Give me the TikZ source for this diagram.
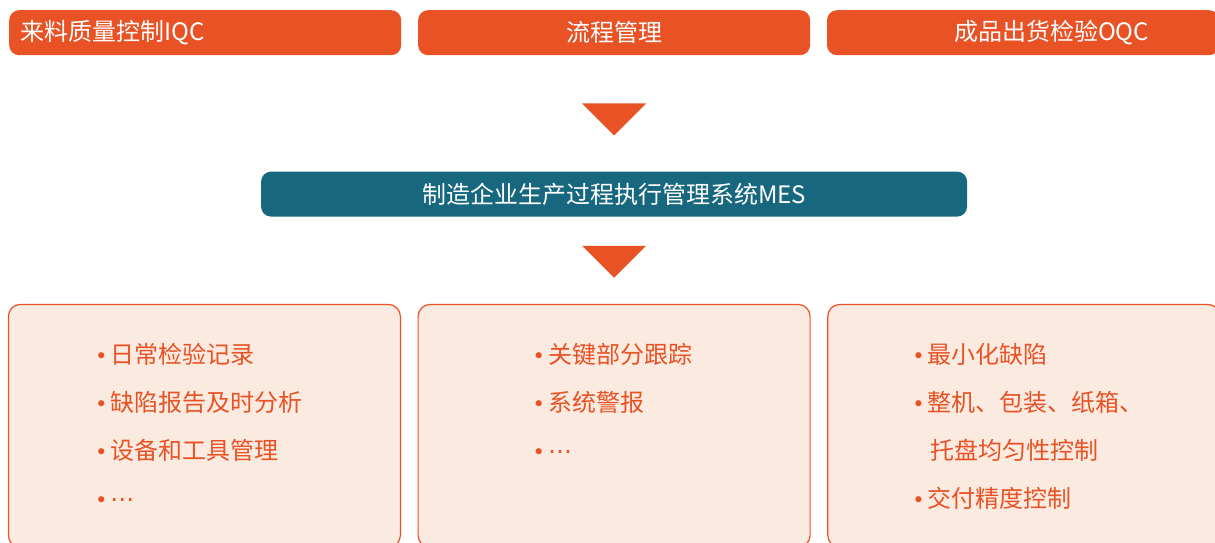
\documentclass[tikz,border=0pt]{standalone}
\usepackage{fontspec}
\setmainfont{Noto Sans CJK SC}
\newfontfamily\dotfont{DejaVu Sans}
\usepackage{xcolor}
\usetikzlibrary{positioning,calc}

\definecolor{mesorange}{HTML}{E85225}
\definecolor{mesteal}{HTML}{17677F}
\definecolor{mespeach}{HTML}{FBEADF}
\newcommand{\bul}{{\dotfont\fontsize{21pt}{21pt}\selectfont •}\hspace{3pt}}
\newcommand{\more}{{\dotfont\fontsize{24pt}{24pt}\selectfont ⋯}}

\begin{document}
\begin{tikzpicture}[
    x=1pt, y=1pt,
    node distance=16.5pt,
    topbox/.style={rectangle, fill=mesorange, text=white, minimum height=45pt, inner ysep=0pt, rounded corners=10pt, font=\fontsize{24pt}{26pt}\selectfont},
    mesbox/.style={rectangle, fill=mesteal, text=white, minimum width=706pt, minimum height=45pt, inner sep=0pt, rounded corners=10pt, font=\fontsize{24pt}{26pt}\selectfont},
    listbox/.style={rectangle, draw=mesorange, line width=1.2pt, fill=mespeach, minimum width=392pt, minimum height=243pt, inner sep=0pt, rounded corners=12pt},
    items/.style={text=mesorange, align=left, anchor=north west, inner sep=0pt, font=\fontsize{24pt}{48pt}\selectfont},
    tri/.style={fill=mesorange}
]
    \useasboundingbox (0,0) rectangle (1215,-542);

    % input side
    \node [topbox, text width=370pt, inner xsep=11pt, align=left, anchor=north west] (iqc) at (9,-10) {来料质量控制IQC};
    \node [topbox, text width=370pt, inner xsep=11pt, align=center, right=of iqc] (flow) {流程管理};
    \node [topbox, text width=252pt, inner xsep=70pt, align=right, right=of flow] (oqc) {成品出货检验OQC};

    \node [mesbox, below=116pt of flow] (mes) {制造企业生产过程执行管理系统MES};

    \fill [tri] ($(flow.south)+(-32,-48)$) -- ++(64,0) -- ++(-32,-32) -- cycle;
    \fill [tri] ($(mes.south)+(-32,-29)$) -- ++(64,0) -- ++(-32,-32) -- cycle;

    % output side
    \node [listbox, below=87pt of mes] (trackbox) {};
    \node [listbox, left=of trackbox] (checkbox) {};
    \node [listbox, right=of trackbox] (deliverbox) {};

    \node [items] (checklist) at ($(checkbox.north west)+(87,-39)$)
        {\bul 日常检验记录\\ \bul 缺陷报告及时分析\\ \bul 设备和工具管理\\ \bul \more};
    \node [items] (tracklist) at ($(trackbox.north west)+(115,-39)$)
        {\bul 关键部分跟踪\\ \bul 系统警报\\ \bul \more};
    \node [items] (deliverlist) at ($(deliverbox.north west)+(85,-39)$)
        {\bul 最小化缺陷\\ \bul 整机、包装、纸箱、\\ \hphantom{\bul}\hspace*{3pt}托盘均匀性控制\\ \bul 交付精度控制};
\end{tikzpicture}
\end{document}
